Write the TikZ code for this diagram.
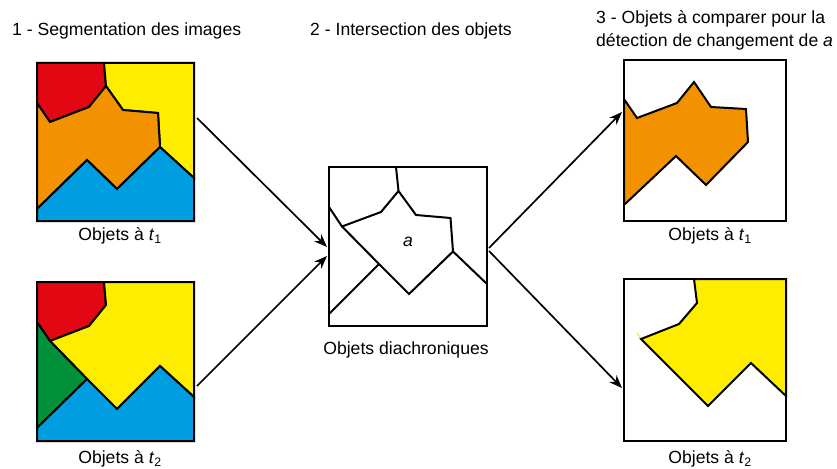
\documentclass[tikz,border=0pt]{standalone}
\usepackage{fontspec}
\setmainfont{Liberation Sans}
\usetikzlibrary{arrows.meta}
\definecolor{segred}{RGB}{227,6,19}
\definecolor{segyellow}{RGB}{255,237,0}
\definecolor{segorange}{RGB}{243,146,0}
\definecolor{segblue}{RGB}{0,158,224}
\definecolor{seggreen}{RGB}{0,145,58}
\begin{document}
\begin{tikzpicture}[x=1pt,y=-1pt,
  frame/.style={draw=black, line width=2.2pt, fill=none, inner sep=0pt},
  region/.style={draw=black, line width=2pt, line join=miter},
  edge/.style={draw=black, line width=2pt},
  flow/.style={draw=black, line width=1.7pt, -{Stealth[length=13pt,width=10pt]}},
  caption/.style={font=\fontsize{17.6}{21}\selectfont, inner sep=0pt},
  title/.style={caption, anchor=west}]
\useasboundingbox (0,0) rectangle (837,468);

% ---- segmentation at t1 ----
\filldraw[region, fill=segred] (37,63) -- (104,63) -- (106,86) -- (89,107) -- (50,122) -- (37,103) -- cycle;
\filldraw[region, fill=segyellow] (104,63) -- (194,63) -- (194,178) -- (160,147) -- (158,113) -- (123,110) -- (106,86) -- cycle;
\filldraw[region, fill=segorange] (37,103) -- (50,122) -- (89,107) -- (106,86) -- (123,110) -- (158,113) -- (160,147) -- (117,189) -- (87,160) -- (37,209) -- cycle;
\filldraw[region, fill=segblue] (37,209) -- (87,160) -- (117,189) -- (160,147) -- (194,178) -- (194,221) -- (37,221) -- cycle;
\node[frame, minimum width=157pt, minimum height=158pt] (seg1) at (115.5,142) {};

% ---- segmentation at t2 ----
\filldraw[region, fill=segred] (37,282) -- (104,282) -- (106,305) -- (89,326) -- (50,341) -- (37,322) -- cycle;
\filldraw[region, fill=segyellow] (104,282) -- (194,282) -- (194,397) -- (160,366) -- (117,409) -- (87,379) -- (50,341) -- (89,326) -- (106,305) -- cycle;
\filldraw[region, fill=seggreen] (37,322) -- (50,341) -- (87,379) -- (37,428) -- cycle;
\filldraw[region, fill=segblue] (37,428) -- (87,379) -- (117,409) -- (160,366) -- (194,397) -- (194,441) -- (37,441) -- cycle;
\node[frame, minimum width=157pt, minimum height=159pt] (seg2) at (115.5,361.5) {};

% ---- intersection of both segmentations ----
\draw[edge] (396,167) -- (398.5,191);
\draw[edge] (398.5,191) -- (381,212) -- (342,226.5) -- (329,207);
\draw[edge] (398.5,191) -- (416,215) -- (450.5,218) -- (453,251.5) -- (487,284);
\draw[edge] (342,226.5) -- (379,264) -- (409,294) -- (453,251.5);
\draw[edge] (329,314) -- (379,264);
\node[frame, minimum width=158pt, minimum height=159pt] (inter) at (408,246.5) {};
\node[caption, font=\fontsize{17.6}{21}\selectfont\itshape] (obja) at (408,242) {a};

% ---- objects compared for a ----
\filldraw[region, fill=segorange] (624,99) -- (637,118) -- (677,103) -- (694,82) -- (711,107) -- (746,109) -- (748,142) -- (706,185) -- (676,156) -- (624,205) -- cycle;
\node[frame, minimum width=162pt, minimum height=161pt] (cmp1) at (705,140.5) {};

\filldraw[region, fill=segyellow] (694,279) -- (697,303) -- (679,324) -- (641,339) -- (708,406) -- (751,363) -- (786,396) -- (786,279) -- cycle;
\draw[segyellow, line width=1.2pt] (637,333) -- (640.5,338);
\node[frame, minimum width=162pt, minimum height=162pt] (cmp2) at (705,360) {};

% ---- captions ----
\node[caption] (cap1) at (120,236) {Objets à \textit{t}\textsubscript{1}};
\node[caption] (cap2) at (120,459) {Objets à \textit{t}\textsubscript{2}};
\node[caption] (cap3) at (406,350) {Objets diachroniques};
\node[caption] (cap4) at (710,236) {Objets à \textit{t}\textsubscript{1}};
\node[caption] (cap5) at (710,459) {Objets à \textit{t}\textsubscript{2}};

\node[title] (step1) at (12,31) {1 - Segmentation des images};
\node[title] (step2) at (310,31) {2 - Intersection des objets};
\node[title] (step3a) at (596,19) {3 - Objets à comparer pour la};
\node[title] (step3b) at (596,42) {détection de changement de \textit{a}};

% ---- arrows ----
\coordinate (s1) at (197,118);
\coordinate (e1) at (327,247);
\coordinate (s2) at (197,386);
\coordinate (e2) at (327,256);
\coordinate (s3) at (489,248);
\coordinate (e3) at (622,112);
\coordinate (s4) at (489,251);
\coordinate (e4) at (622,388);
\draw[flow] (s1) -- (e1);
\draw[flow] (s2) -- (e2);
\draw[flow] (s3) -- (e3);
\draw[flow] (s4) -- (e4);
\end{tikzpicture}
\end{document}
